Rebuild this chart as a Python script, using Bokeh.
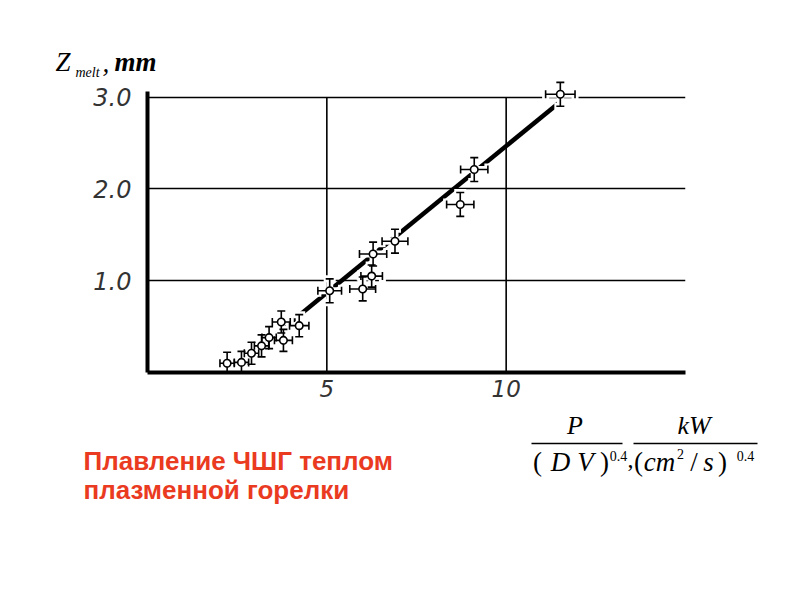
from bokeh.plotting import figure
from bokeh.layouts import column
from bokeh.models import (ColumnDataSource, Whisker, TeeHead, FixedTicker, Range1d,
                          PrintfTickFormatter)
from bokeh.core.properties import value
from bokeh.embed import file_html
from bokeh.resources import INLINE

# ---- data ----
x_vals = [2.22, 2.62, 2.90, 3.18, 3.39, 3.73, 3.79, 4.23, 5.08, 6.00, 6.25, 6.29, 6.90, 8.72, 9.11, 11.51]
y_vals = [0.10, 0.11, 0.21, 0.29, 0.38, 0.55, 0.35, 0.51, 0.89, 0.91, 1.05, 1.29, 1.43, 1.83, 2.21, 3.03]
x_err = [0.20, 0.20, 0.20, 0.20, 0.20, 0.25, 0.25, 0.27, 0.33, 0.36, 0.30, 0.38, 0.36, 0.38, 0.38, 0.41]
y_err = [0.12, 0.12, 0.12, 0.12, 0.12, 0.12, 0.12, 0.12, 0.13, 0.13, 0.12, 0.13, 0.13, 0.13, 0.13, 0.13]
fit_x = [2.75, 11.45]
fit_y = [0.15, 2.93]
x_ticks = [5, 10]
y_ticks = [1.0, 2.0, 3.0]

W = 784
TOP_H = 80            # strip holding the y-axis title
ML, MT, MB = 147, 0, 35
FW, FH = 538, 292
MR = W - ML - FW
MAIN_H = MT + FH + MB
BOT_H = 584 - TOP_H - MAIN_H
XMAX, YMAX = 15, 3.18


def blank(height, y0, y1):
    f = figure(width=W, height=height, output_backend="svg", toolbar_location=None,
               x_range=Range1d(0, W), y_range=Range1d(y0, y1),
               x_axis_type=None, y_axis_type=None, min_border=0, title=None,
               frame_align=False)
    f.outline_line_color = None
    f.grid.visible = False
    f.background_fill_color = "white"
    f.border_fill_color = "white"
    return f


def txt(f, x, y, s, size, font="Liberation Serif", style="italic", align="center", color="black"):
    # y is the wanted baseline; bokeh's text box sits ~0.3 em lower, so compensate
    f.text(x=[x], y=[y - 0.3 * size], text=[s], text_font=value(font), text_font_style=value(style),
           text_font_size=value(f"{size}px"), text_align=value(align),
           text_baseline=value("alphabetic"), text_color=color)


# ---- top strip: y-axis title  Z_melt, mm ----
top = blank(TOP_H, TOP_H, 0)
txt(top, 55, 70, "Z", 27, align="left")
txt(top, 75, 76, "melt", 14, align="left")
txt(top, 102, 71, ",", 27, align="left")
txt(top, 114, 70, "mm", 27, style="bold italic", align="left")

# ---- main plot ----
p = figure(width=W, height=MAIN_H, output_backend="svg", toolbar_location=None,
           x_range=Range1d(0, XMAX), y_range=Range1d(0, YMAX),
           min_border_left=ML, min_border_right=MR, min_border_top=MT, min_border_bottom=MB,
           title=None, frame_align=False)
p.outline_line_color = None
p.background_fill_color = "white"
p.border_fill_color = "white"

for ax in (p.xaxis[0], p.yaxis[0]):
    ax.axis_line_width = 4
    ax.axis_line_color = "black"
    ax.major_tick_line_color = None
    ax.minor_tick_line_color = None
    ax.major_tick_out = 0
    ax.major_tick_in = 0
    ax.major_label_text_font = "DejaVu Sans"
    ax.major_label_text_font_style = "italic"
    ax.major_label_text_color = "#333333"
p.yaxis.major_label_text_font_size = "24px"
p.xaxis.major_label_text_font_size = "23px"
p.yaxis.major_label_standoff = 16
p.xaxis.major_label_standoff = 7
p.xaxis.ticker = FixedTicker(ticks=x_ticks)
p.yaxis.ticker = FixedTicker(ticks=y_ticks)
p.yaxis.formatter = PrintfTickFormatter(format="%.1f")
p.yaxis.bounds = (0, 3.06)
p.xaxis.bounds = (0, XMAX)

p.xgrid.visible = False
p.ygrid.ticker = FixedTicker(ticks=y_ticks)
p.ygrid.grid_line_color = "black"
p.ygrid.grid_line_width = 1.6
p.ygrid.level = "image"
p.segment(x0=x_ticks, y0=[0] * len(x_ticks), x1=x_ticks, y1=[y_ticks[-1]] * len(x_ticks),
          line_color="black", line_width=1.6, level="image")

p.line(fit_x, fit_y, line_color="black", line_width=4.5, level="image")

src = ColumnDataSource(dict(
    x=x_vals, y=y_vals,
    xl=[a - e for a, e in zip(x_vals, x_err)], xu=[a + e for a, e in zip(x_vals, x_err)],
    yl=[a - e for a, e in zip(y_vals, y_err)], yu=[a + e for a, e in zip(y_vals, y_err)],
))
for color, lw, cap in (("white", 7, 12), ("black", 1.6, 8)):
    p.add_layout(Whisker(source=src, base="y", lower="xl", upper="xu", dimension="width",
                         line_color=color, line_width=lw,
                         lower_head=TeeHead(size=cap, line_color=color, line_width=lw),
                         upper_head=TeeHead(size=cap, line_color=color, line_width=lw)))
    p.add_layout(Whisker(source=src, base="x", lower="yl", upper="yu", dimension="height",
                         line_color=color, line_width=lw,
                         lower_head=TeeHead(size=cap, line_color=color, line_width=lw),
                         upper_head=TeeHead(size=cap, line_color=color, line_width=lw)))
p.scatter("x", "y", source=src, size=7.5, fill_color="white", line_color="black", line_width=1.6)

# ---- bottom strip: x-axis formula and red caption (page coordinates) ----
Y0 = TOP_H + MAIN_H
bot = blank(BOT_H, 584, Y0)
txt(bot, 574.5, 433, "P", 26)
txt(bot, 537, 470, "(", 27, style="normal")
txt(bot, 560, 470, "D", 27)
txt(bot, 585, 470, "V", 27)
txt(bot, 604, 470, ")", 27, style="normal")
txt(bot, 618, 460, "0.4", 14, style="normal")
txt(bot, 630, 466, ",", 24, style="normal")
txt(bot, 693.5, 433, "kW", 26)
txt(bot, 638, 470, "(", 27, style="normal")
txt(bot, 659, 470, "cm", 27)
txt(bot, 680, 458, "2", 14, style="normal")
txt(bot, 693.5, 470, "/", 27, style="normal")
txt(bot, 708, 470, "s", 27)
txt(bot, 722, 470, ")", 27, style="normal")
txt(bot, 745, 460, "0.4", 14, style="normal")
bot.segment(x0=[531, 633], y0=[443, 443], x1=[622, 757], y1=[443, 443],
            line_color="black", line_width=1.3)

txt(bot, 83, 468, "Плавление ЧШГ теплом", 26, font="Liberation Sans", style="bold",
    align="left", color="#ea3a1f")
txt(bot, 83, 497, "плазменной горелки", 26, font="Liberation Sans", style="bold",
    align="left", color="#ea3a1f")

layout = column(top, p, bot, spacing=0)
open("out.html", "w").write(file_html(layout, INLINE))
